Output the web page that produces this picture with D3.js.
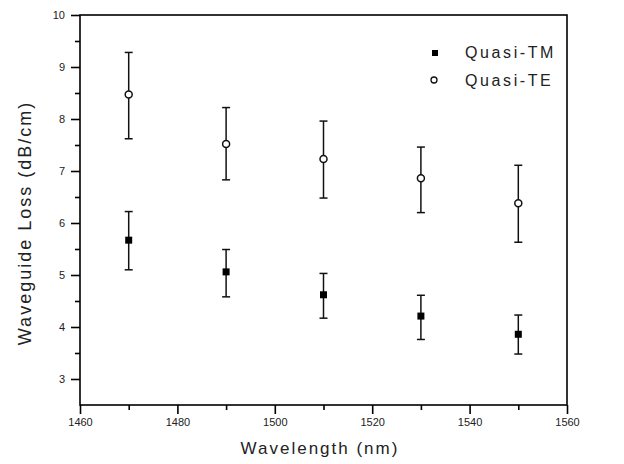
<!DOCTYPE html>
<html>
<head>
<meta charset="utf-8">
<script src="https://cdn.jsdelivr.net/npm/d3@7"></script>
<style>
  body { margin: 0; background: #fff; }
  text { font-family: "Liberation Sans", Arial, sans-serif; fill: #222; }
</style>
</head>
<body>
<div id="chart"></div>
<script>
// wavelengths (nm)
const wavelengths = [1470, 1490, 1510, 1530, 1550];
// loss values (dB/cm) with error bar ends
const tmLoss = [5.67, 5.06, 4.62, 4.21, 3.86];
const tmHigh = [6.22, 5.49, 5.03, 4.61, 4.23];
const tmLow = [5.10, 4.58, 4.17, 3.76, 3.48];
const teLoss = [8.47, 7.52, 7.23, 6.86, 6.38];
const teHigh = [9.28, 8.22, 7.96, 7.46, 7.11];
const teLow = [7.62, 6.83, 6.48, 6.20, 5.63];

const xTicks = [1460, 1480, 1500, 1520, 1540, 1560];
const xMinor = [1470, 1490, 1510, 1530, 1550];
const yTicks = [3, 4, 5, 6, 7, 8, 9, 10];
const yMinor = [3.5, 4.5, 5.5, 6.5, 7.5, 8.5, 9.5];

const width = 624, height = 464;
const margin = { top: 15, left: 80, right: 57, bottom: 59 };

const svg = d3.select('#chart')
  .append("svg")
  .attr("width", width)
  .attr("height", height);

const x = d3.scaleLinear()
  .domain([1460, 1560])
  .range([margin.left, width - margin.right]);

const y = d3.scaleLinear()
  .domain([2.5, 10])
  .range([height - margin.bottom, margin.top]);

// frame
svg.append("rect")
  .attr("x", x(1460))
  .attr("y", y(10))
  .attr("width", x(1560) - x(1460))
  .attr("height", y(2.5) - y(10))
  .attr("fill", "none")
  .attr("stroke", "#000")
  .attr("stroke-width", 1.6);

function styleAxis(g) {
  g.select(".domain").remove();
  g.selectAll(".tick line").attr("stroke", "#000").attr("stroke-width", 1.6);
  g.selectAll(".tick text").attr("font-size", 11).attr("fill", "#222");
}

// minor ticks
svg.append("g")
  .attr("transform", `translate(0,${y(2.5)})`)
  .call(d3.axisBottom(x).tickValues(xMinor).tickSizeInner(5).tickSizeOuter(0).tickFormat(() => ""))
  .call(styleAxis);

svg.append("g")
  .attr("transform", `translate(${x(1460)},0)`)
  .call(d3.axisLeft(y).tickValues(yMinor).tickSizeInner(5).tickSizeOuter(0).tickFormat(() => ""))
  .call(styleAxis);

// major ticks
svg.append("g")
  .attr("transform", `translate(0,${y(2.5)})`)
  .call(d3.axisBottom(x).tickValues(xTicks).tickSizeInner(9).tickSizeOuter(0).tickPadding(4).tickFormat(d3.format("d")))
  .call(styleAxis);

svg.append("g")
  .attr("transform", `translate(${x(1460)},0)`)
  .call(d3.axisLeft(y).tickValues(yTicks).tickSizeInner(9).tickSizeOuter(0).tickPadding(6))
  .call(styleAxis);

// axis titles
svg.append("text")
  .attr("x", 320)
  .attr("y", 454)
  .attr("text-anchor", "middle")
  .attr("font-size", 17)
  .attr("letter-spacing", 2)
  .text("Wavelength (nm)");

svg.append("text")
  .attr("transform", "translate(31,223) rotate(-90)")
  .attr("text-anchor", "middle")
  .attr("font-size", 18)
  .attr("letter-spacing", 2)
  .text("Waveguide Loss (dB/cm)");

// error bars + markers
function drawSeries(vals, hi, lo, kind) {
  const g = svg.append("g");
  const d = wavelengths.map((w, i) => ({ w, v: vals[i], hi: hi[i], lo: lo[i] }));
  const bars = g.selectAll("g.bar").data(d).enter().append("g").attr("class", "bar");
  bars.append("line")
    .attr("x1", p => x(p.w)).attr("x2", p => x(p.w))
    .attr("y1", p => y(p.hi)).attr("y2", p => y(p.lo))
    .attr("stroke", "#111").attr("stroke-width", 1.5);
  bars.selectAll("line.cap").data(p => [p.hi, p.lo].map(v => ({ w: p.w, v }))).enter()
    .append("line").attr("class", "cap")
    .attr("x1", p => x(p.w) - 4).attr("x2", p => x(p.w) + 4)
    .attr("y1", p => y(p.v)).attr("y2", p => y(p.v))
    .attr("stroke", "#111").attr("stroke-width", 1.5);
  if (kind === "square") {
    bars.append("rect")
      .attr("x", p => x(p.w) - 3.5).attr("y", p => y(p.v) - 3.5)
      .attr("width", 7).attr("height", 7)
      .attr("fill", "#000");
  } else {
    bars.append("circle")
      .attr("cx", p => x(p.w)).attr("cy", p => y(p.v))
      .attr("r", 3.5)
      .attr("fill", "#fff").attr("stroke", "#111").attr("stroke-width", 1.5);
  }
}
drawSeries(teLoss, teHigh, teLow, "circle");
drawSeries(tmLoss, tmHigh, tmLow, "square");

// legend
svg.append("rect").attr("x", 432).attr("y", 50).attr("width", 6).attr("height", 6).attr("fill", "#000");
svg.append("circle").attr("cx", 434).attr("cy", 80).attr("r", 3).attr("fill", "#fff")
  .attr("stroke", "#111").attr("stroke-width", 1.3);
svg.append("text").attr("x", 465).attr("y", 58).attr("font-size", 16).attr("letter-spacing", 2.6).text("Quasi-TM");
svg.append("text").attr("x", 465).attr("y", 86).attr("font-size", 16).attr("letter-spacing", 2.6).text("Quasi-TE");
</script>
</body>
</html>
